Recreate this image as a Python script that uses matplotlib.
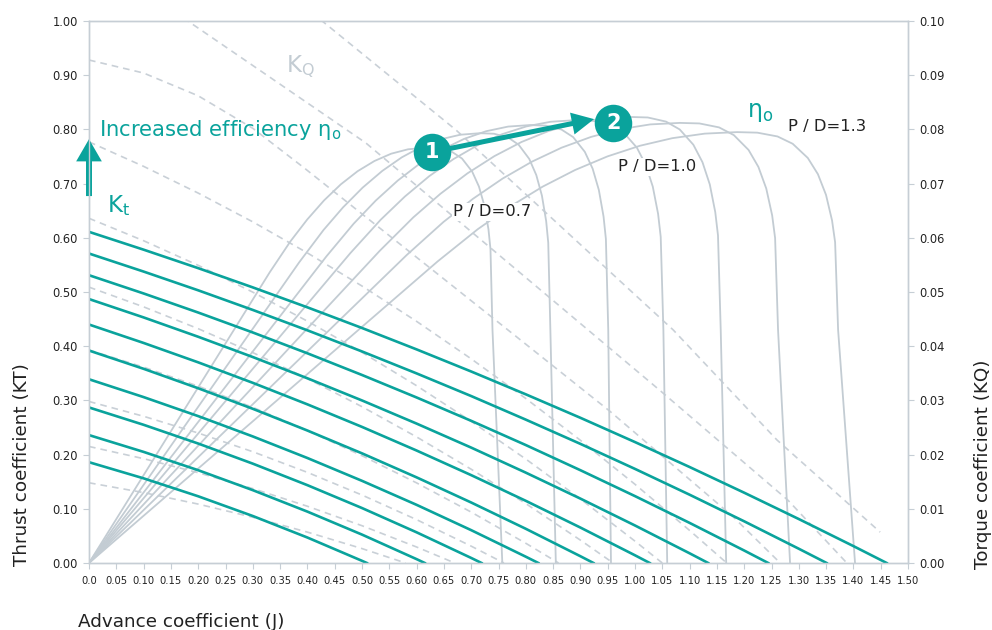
import numpy as np
import matplotlib
matplotlib.use('Agg')
import matplotlib.pyplot as plt

plt.rcParams['font.family'] = ['DejaVu Sans']
plt.rcParams['mathtext.fontset'] = 'dejavusans'

TEAL = '#0aa39c'
GREY = '#c3ccd3'
DASH = '#c9d0d7'
SPINE = '#c6ced5'
INK = '#222222'

# thrust coefficient curves: values on a common J grid, each ending at kt_end (KT = 0)
j_grid = [0.0, 0.1, 0.2, 0.3, 0.4, 0.5, 0.6, 0.7, 0.8, 0.9, 1.0, 1.1, 1.2, 1.3, 1.4]
kt_end = [1.461, 1.351, 1.244, 1.134, 1.027, 0.924, 0.823, 0.719, 0.615, 0.509]
kt_vals = [
    [.611, .5781, .5440, .5085, .4717, .4336, .3941, .3533, .3112, .2679, .2231, .1771, .1297, .0811, .0312],
    [.571, .5377, .5031, .4669, .4293, .3903, .3498, .3080, .2645, .2198, .1736, .1260, .0769, .0263],
    [.531, .4973, .4621, .4253, .3869, .3469, .3054, .2623, .2176, .1712, .1234, .0740, .0230],
    [.487, .4531, .4174, .3800, .3408, .2999, .2572, .2129, .1667, .1188, .0692, .0179],
    [.440, .4060, .3702, .3324, .2927, .2511, .2075, .1621, .1147, .0654, .0142],
    [.392, .3583, .3224, .2845, .2444, .2023, .1580, .1116, .0631, .0125],
    [.339, .3061, .2710, .2335, .1937, .1516, .1073, .0606, .0116],
    [.287, .2550, .2204, .1833, .1436, .1014, .0566, .0093],
    [.236, .2050, .1712, .1344, .0948, .0524, .0071],
    [.186, .1562, .1231, .0867, .0470, .0040],
]

# torque coefficient curves (right axis units)
kq_j = [
    [0, .1, .2, .3, .4, .5, .58],
    [0, .1, .2, .3, .4, .5, .6, .67],
    [0, .1, .2, .3, .4, .5, .6, .7, .76],
    [0, .1, .2, .3, .4, .5, .6, .7, .8, .86],
    [0, .1, .2, .3, .4, .5, .6, .7, .8, .9, .96],
    [0, .1, .2, .3, .4, .5, .6, .7, .8, .9, 1.0, 1.05],
    [0, .1, .2, .3, .4, .5, .6, .7, .8, .9, 1.0, 1.1, 1.168],
    [0, .1, .2, .3, .394, .5, .65, .771, .954, 1.179, 1.266],
    [0, .181, .507, .75, 1.045, 1.28, 1.388],
    [0, .427, .672, 1.07, 1.26, 1.449],
]
kq_vals = [
    [.0148, .01299, .01087, .00844, .0057, .00266, 0],
    [.0215, .01925, .01666, .01373, .01047, .00688, .00295, 0],
    [.0298, .02707, .02398, .02053, .01672, .01254, .0080, .00311, 0],
    [.0393, .03614, .03262, .02872, .02444, .0198, .01478, .00939, .00364, 0],
    [.0509, .04726, .04323, .03882, .03402, .02884, .02326, .0173, .01096, .00422, 0],
    [.0636, .05946, .05492, .04997, .04462, .03887, .03271, .02614, .01918, .01182, .00403, 0],
    [.0777, .07318, .06825, .06294, .05721, .0511, .04458, .03767, .03035, .02264, .01452, .00601, 0],
    [.0928, .0904, .0862, .0802, .0729, .0644, .0524, .0427, .0280, .0086, 0],
    [.1118, .1000, .0775, .0569, .0319, .0116, 0],
    [.132, .100, .0799, .043, .0227, .0057],
]

# open water efficiency curves
eta_j = [
    [0, .3309, .369, .3998, .4305, .4613, .492, .5228, .5535, .5843, .615,
     .6398, .6646, .6832, .7018, .7142, .7241, .7316, .7353, .739, .757],
    [0, .3852, .4296, .4654, .5012, .537, .5728, .6086, .6444, .6802, .716,
     .7418, .7676, .787, .8063, .8192, .8295, .8373, .8411, .845, .855],
    [0, .4347, .4848, .5252, .5656, .606, .6464, .6868, .7272, .7676, .808,
     .8366, .8652, .8867, .9081, .9224, .9338, .9424, .9467, .951, .956],
    [0, .4788, .534, .5785, .623, .6675, .712, .7565, .801, .8455, .89,
     .9224, .9548, .9791, 1.0034, 1.0196, 1.0326, 1.0423, 1.0471, 1.052, 1.059],
    [0, .5326, .594, .6435, .693, .7425, .792, .8415, .891, .9405, .99,
     1.0234, 1.0568, 1.0819, 1.1069, 1.1236, 1.137, 1.147, 1.152, 1.157, 1.167],
    [0, .5821, .6492, .7033, .7574, .8115, .8656, .9197, .9738, 1.0279, 1.082,
     1.118, 1.154, 1.181, 1.208, 1.226, 1.2404, 1.2512, 1.2566, 1.262, 1.284],
    [0, .6386, .7122, .7716, .8309, .8903, .9496, 1.009, 1.0683, 1.1277, 1.187,
     1.224, 1.261, 1.2888, 1.3165, 1.335, 1.3498, 1.3609, 1.3665, 1.372, 1.403],
]
eta_vals = [
    [0, .5362, .5936, .6339, .6690, .6987, .7229, .7417, .7552, .7633, .766,
     .7651, .7587, .7462, .7221, .6945, .6595, .6159, .5791, .43, 0],
    [0, .5551, .6145, .6563, .6926, .7233, .7484, .7679, .7818, .7902, .793,
     .7920, .7851, .7716, .7456, .7158, .6779, .6308, .5910, .43, 0],
    [0, .5656, .6261, .6687, .7057, .7370, .7625, .7824, .7966, .8052, .808,
     .8070, .7998, .7858, .7586, .7276, .6882, .6392, .5977, .43, 0],
    [0, .5719, .6331, .6761, .7136, .7452, .7710, .7911, .8055, .8141, .817,
     .8160, .8086, .7942, .7664, .7347, .6943, .6441, .6017, .43, 0],
    [0, .5761, .6377, .6811, .7188, .7507, .7767, .7969, .8114, .8201, .823,
     .8220, .8144, .7999, .7717, .7394, .6984, .6474, .6044, .43, 0],
    [0, .5684, .6292, .6720, .7092, .7406, .7663, .7862, .8005, .8092, .812,
     .8110, .8037, .7895, .7621, .7308, .6909, .6414, .5995, .43, 0],
    [0, .5565, .6160, .6579, .6944, .7251, .7502, .7698, .7838, .7922, .795,
     .7940, .7870, .7735, .7473, .7174, .6793, .6320, .5919, .43, 0],
]

# annotation positions (J, eta)
pd_labels = ['P / D=0.7', 'P / D=1.0', 'P / D=1.3']
pd_pos = [(0.738, 0.648), (1.040, 0.731), (1.352, 0.806)]
step_pos = [(0.628, 0.758), (0.960, 0.812)]
step_tip = (0.925, 0.819)

fig = plt.figure(figsize=(9.92, 6.3), dpi=100)
ax = fig.add_axes([89 / 992, 1 - 563 / 630, 819 / 992, 542 / 630])
ax2 = ax.twinx()
ax.set_xlim(0, 1.5)
ax.set_ylim(0, 1.0)
ax2.set_ylim(0, 0.1)

# dashed torque curves drawn under everything, in right-axis units
for j, v in zip(kq_j, kq_vals):
    ax.plot(j, v, color=DASH, lw=1.2, dashes=(4, 3), transform=ax2.transData, zorder=1)

for j, v in zip(eta_j, eta_vals):
    ax.plot(j, v, color=GREY, lw=1.3, zorder=2)

for end, v in zip(kt_end, kt_vals):
    j = j_grid[:len(v)] + [end]
    ax.plot(j, v + [0], color=TEAL, lw=1.9, zorder=3)

ax.set_xlim(0, 1.5)
ax.set_ylim(0, 1.0)

xt = np.arange(0, 1.501, 0.05)
ax.set_xticks(xt)
ax.set_xticklabels(['0.0'] + ['%.2f' % t for t in xt[1:]])
ax.set_yticks(np.arange(0, 1.001, 0.1))
ax.set_yticklabels(['%.2f' % t for t in np.arange(0, 1.001, 0.1)])
ax2.set_yticks(np.arange(0, 0.1001, 0.01))
ax2.set_yticklabels(['%.2f' % t for t in np.arange(0, 0.1001, 0.01)])

for a in (ax, ax2):
    for s in a.spines.values():
        s.set_color(SPINE)
        s.set_linewidth(1.0)
    a.tick_params(length=4, width=0.8, color=SPINE, labelsize=8.3,
                  labelcolor=INK, pad=4)
ax.tick_params(axis='x', labelsize=7.2, pad=5)

fig.text(22 / 992, 1 - 465 / 630, 'Thrust coefficient (KT)', rotation=90,
         ha='center', va='center', fontsize=13.2, color=INK)
fig.text(983 / 992, 1 - 464 / 630, 'Torque coefficient (KQ)', rotation=90,
         ha='center', va='center', fontsize=13.2, color=INK)
fig.text(78 / 992, 1 - 622 / 630, 'Advance coefficient (J)',
         ha='left', va='center', fontsize=13.2, color=INK)

ax.text(0.018, 0.799, r'Increased efficiency $\mathrm{\eta}_\mathregular{o}$', color=TEAL,
        fontsize=15.2, ha='left', va='center', zorder=5)
ax.text(0.033, 0.66, r'K$_\mathregular{t}$', color=TEAL, fontsize=16.5,
        ha='left', va='center', zorder=5)
ax.text(0.361, 0.915, r'K$_\mathregular{Q}$', color=GREY, fontsize=16.5,
        ha='left', va='center', zorder=5)
ax.text(1.205, 0.832, r'$\mathrm{\eta}_\mathregular{o}$', color=TEAL, fontsize=17,
        ha='left', va='center', zorder=5)

for lab, (x, y) in zip(pd_labels, pd_pos):
    ax.text(x, y, lab, color=INK, fontsize=11.8, ha='center', va='center', zorder=5,
            bbox=dict(facecolor='white', edgecolor='none', pad=1.0))

# arrows
ax.annotate('', xy=(0, 0.782), xytext=(0, 0.677), annotation_clip=False,
            arrowprops=dict(facecolor=TEAL, edgecolor='none', width=4.3,
                            headwidth=18.5, headlength=16, shrink=0), zorder=6)
ax.annotate('', xy=step_tip, xytext=step_pos[0],
            arrowprops=dict(facecolor=TEAL, edgecolor='none', width=3.6,
                            headwidth=16, headlength=16, shrink=0), zorder=6)

for i, (x, y) in enumerate(step_pos):
    ax.plot(x, y, 'o', ms=27, color=TEAL, mec='none', zorder=7)
    ax.text(x, y, str(i + 1), color='white', fontsize=15, fontweight='bold',
            ha='center', va='center', zorder=8)

fig.savefig('out.png', dpi=100)
